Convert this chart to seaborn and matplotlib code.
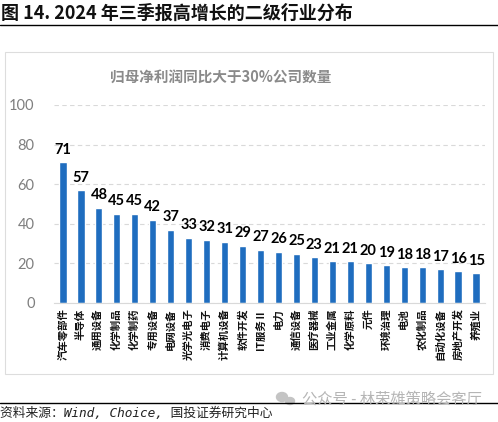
import matplotlib
matplotlib.use("Agg")
import matplotlib.pyplot as plt
from matplotlib.patches import Rectangle, Ellipse
from matplotlib.lines import Line2D
import seaborn as sns
import pandas as pd

# data
industries = ["汽车零部件", "半导体", "通用设备", "化学制品", "化学制药", "专用设备",
              "电网设备", "光学光电子", "消费电子", "计算机设备", "软件开发", "IT服务Ⅱ",
              "电力", "通信设备", "医疗器械", "工业金属", "化学原料", "元件",
              "环境治理", "电池", "农化制品", "自动化设备", "房地产开发", "养殖业"]
counts = [71, 57, 48, 45, 45, 42, 37, 33, 32, 31, 29, 27,
          26, 25, 23, 21, 21, 20, 19, 18, 18, 17, 16, 15]
yticks = [0, 20, 40, 60, 80, 100]

sns.set_style("white")
plt.rcParams["font.family"] = ["Noto Sans CJK SC", "DejaVu Sans"]

W, H = 498, 422
fig = plt.figure(figsize=(W / 100, H / 100), dpi=100)


def fx(px):
    return px / W


def fy(py):
    return 1 - py / H


# header / footer decoration
fig.text(fx(1), fy(13), "图 14. 2024 年三季报高增长的二级行业分布", fontsize=13,
         fontweight="bold", ha="left", va="center", color="#111111")
fig.add_artist(Line2D([0, 1], [fy(25), fy(25)], color="black", lw=1.0))
fig.add_artist(Rectangle((fx(5), fy(374)), fx(488), fy(52) - fy(374), fill=False,
                         edgecolor="#dddddd", lw=0.8))
fig.text(fx(221), fy(78), "归母净利润同比大于30%公司数量", fontsize=10.5,
         fontweight="bold", ha="center", va="center", color="#8a8a8a")
fig.add_artist(Line2D([0, 1], [fy(403), fy(403)], color="black", lw=1.0))
fig.text(fx(0), fy(413), "资料来源：Wind, Choice, 国投证券研究中心", fontsize=9.2,
         ha="left", va="center", color="#222222",
         family=["DejaVu Sans Mono", "Noto Sans CJK SC"], style="italic")
fig.add_artist(Ellipse((fx(282), fy(397)), fx(11), fy(0) - fy(9), color="#c4c4c4"))
fig.add_artist(Ellipse((fx(290), fy(401)), fx(9), fy(0) - fy(7), color="#c4c4c4"))
fig.text(fx(482), fy(399), "公众号 - 林荣雄策略会客厅", fontsize=11,
         ha="right", va="center", color="#b5b5b5")

# main bar chart
ax = fig.add_axes([fx(54), fy(303), fx(485) - fx(54), fy(105) - fy(303)])
df = pd.DataFrame({"industry": industries, "count": counts})
sns.barplot(data=df, x="industry", y="count", color="#1f6dbf", width=0.4,
            saturation=1, ax=ax)
ax.set_xlim(-0.5, len(industries) - 0.5)
ax.set_ylim(0, 100)
ax.set_yticks(yticks)
ax.set_xlabel("")
ax.set_ylabel("")
for c in ax.containers:
    ax.bar_label(c, padding=4, fontsize=10.5, fontweight="bold", color="black",
                 family=["Lato", "DejaVu Sans"])
ax.grid(axis="y", color="#d9d9d9", linestyle=(0, (4, 3)), lw=0.8)
ax.set_axisbelow(True)
for s in ["top", "right", "left"]:
    ax.spines[s].set_visible(False)
ax.spines["bottom"].set_color("#d9d9d9")
ax.tick_params(axis="y", length=0, pad=14, labelsize=10.5, labelcolor="#7f7f7f")
ax.tick_params(axis="x", length=0, pad=4, labelsize=7.5, labelcolor="#111111")
for t in ax.get_yticklabels():
    t.set_family(["Lato", "DejaVu Sans"])
plt.setp(ax.get_xticklabels(), rotation=90, fontweight="bold")

fig.savefig("out.png", dpi=100)
